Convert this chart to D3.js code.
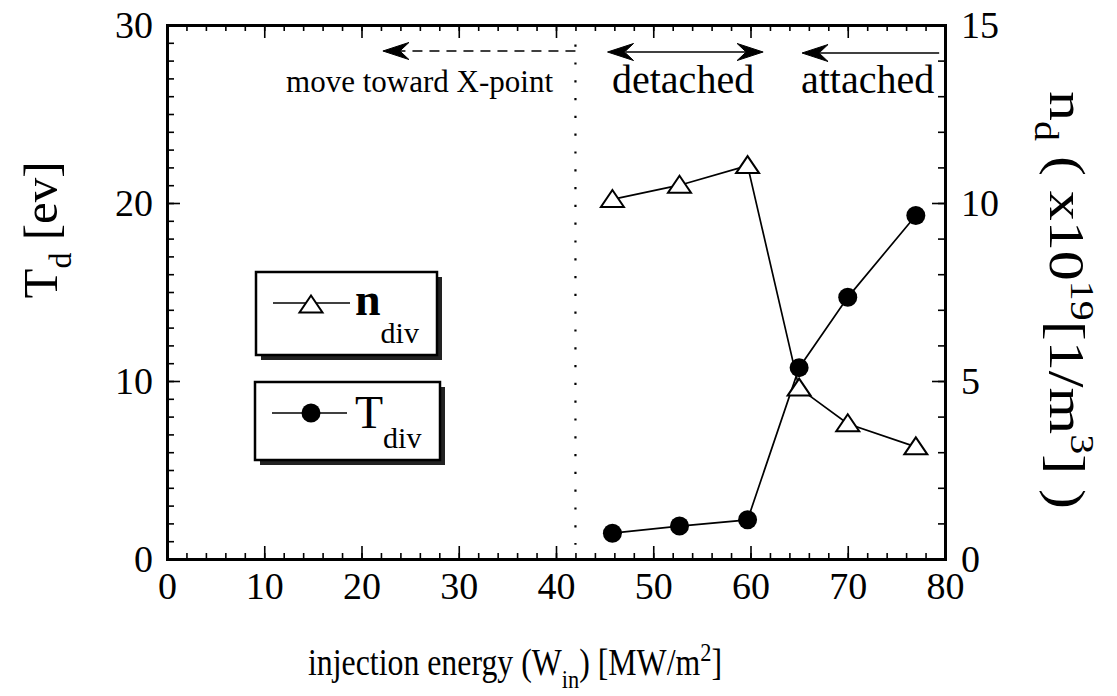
<!DOCTYPE html>
<html>
<head>
<meta charset="utf-8">
<script src="https://cdn.jsdelivr.net/npm/d3@7"></script>
<style>
  html, body { margin: 0; padding: 0; background: #fff; }
  svg { display: block; }
  text { font-family: "Liberation Serif", "Times New Roman", serif; fill: #000; }
</style>
</head>
<body>
<svg id="chart" width="1117" height="696"></svg>
<script>
// Injection energy (MW/m^2) for each simulation case
const injectionEnergy = [45.8, 52.7, 59.7, 65, 70, 77];
// Divertor density n_div (x10^19 1/m^3), right axis
const nDiv = [10.1, 10.5, 11.05, 4.8, 3.8, 3.15];
// Divertor temperature T_div (eV), left axis
const tDiv = [1.45, 1.85, 2.2, 10.75, 14.7, 19.3];

const xTicks = [0, 10, 20, 30, 40, 50, 60, 70, 80];
const leftTicks = [0, 10, 20, 30];
const rightTicks = [0, 5, 10, 15];

// Regime boundary (dotted line) and arrow extents, in injection-energy units
const xPointBoundary = 42;
const moveArrow = [42, 22.2];
const detachedArrow = [45.3, 61.3];
const attachedArrow = [79.4, 65.3];

const svg = d3.select("#chart");
const L = 167, R = 945, T = 25, B = 559;

const x = d3.scaleLinear().domain([0, 80]).range([L, R]);
const yT = d3.scaleLinear().domain([0, 30]).range([B, T]);
const yN = d3.scaleLinear().domain([0, 15]).range([B, T]);

function styleAxis(g, fontSize) {
  g.select(".domain").attr("stroke", "#000").attr("stroke-width", 3);
  g.selectAll(".tick line").attr("stroke", "#000").attr("stroke-width", 1.6);
  g.selectAll(".tick text").attr("font-size", fontSize)
    .attr("font-family", "Liberation Serif").attr("fill", "#000");
}

// minor ticks
const minorX = d3.range(0, 81, 2);
const minorT = d3.range(0, 31, 1);
const minorN = d3.range(0, 16, 1);

svg.append("g").attr("transform", `translate(0,${B})`)
  .call(d3.axisBottom(x).tickValues(minorX).tickSize(-6).tickFormat(""))
  .call(g => styleAxis(g, 0));
svg.append("g").attr("transform", `translate(0,${T})`)
  .call(d3.axisTop(x).tickValues(minorX).tickSize(-6).tickFormat(""))
  .call(g => styleAxis(g, 0));
svg.append("g").attr("transform", `translate(${L},0)`)
  .call(d3.axisLeft(yT).tickValues(minorT).tickSize(-7).tickFormat(""))
  .call(g => styleAxis(g, 0));
svg.append("g").attr("transform", `translate(${R},0)`)
  .call(d3.axisRight(yN).tickValues(minorN).tickSize(-7).tickFormat(""))
  .call(g => styleAxis(g, 0));

// major ticks with labels
svg.append("g").attr("transform", `translate(0,${B})`)
  .call(d3.axisBottom(x).tickValues(xTicks).tickSizeInner(-13).tickSizeOuter(0).tickPadding(13).tickFormat(d3.format("d")))
  .call(g => styleAxis(g, 38));
svg.append("g").attr("transform", `translate(0,${T})`)
  .call(d3.axisTop(x).tickValues(xTicks).tickSizeInner(-13).tickSizeOuter(0).tickFormat(""))
  .call(g => styleAxis(g, 0));
svg.append("g").attr("transform", `translate(${L},0)`)
  .call(d3.axisLeft(yT).tickValues(leftTicks).tickSizeInner(-13).tickSizeOuter(0).tickPadding(14).tickFormat(d3.format("d")))
  .call(g => styleAxis(g, 38));
svg.append("g").attr("transform", `translate(${R},0)`)
  .call(d3.axisRight(yN).tickValues(rightTicks).tickSizeInner(-13).tickSizeOuter(0).tickPadding(16).tickFormat(d3.format("d")))
  .call(g => styleAxis(g, 38));

// dotted boundary line
svg.append("line")
  .attr("x1", x(xPointBoundary)).attr("x2", x(xPointBoundary))
  .attr("y1", yT(28.9)).attr("y2", yT(0.8))
  .attr("stroke", "#000").attr("stroke-width", 2.2)
  .attr("stroke-dasharray", "2.2,15.6");

// barbed arrowhead pointing in direction dir (+1 right, -1 left)
function arrowHead(tipX, tipY, dir) {
  const len = 26, half = 8.5, notch = 17;
  const p = [
    [tipX, tipY],
    [tipX - dir * len, tipY - half],
    [tipX - dir * notch, tipY],
    [tipX - dir * len, tipY + half]
  ];
  svg.append("path").attr("d", "M" + p.map(d => d.join(",")).join("L") + "Z")
    .attr("fill", "#000").attr("stroke", "#000").attr("stroke-width", 1);
}

const arrowY = 51;
// move toward X-point (dashed)
svg.append("line")
  .attr("x1", x(moveArrow[0])).attr("x2", x(moveArrow[1]) + 18)
  .attr("y1", arrowY).attr("y2", arrowY)
  .attr("stroke", "#000").attr("stroke-width", 1.5).attr("stroke-dasharray", "10,7");
arrowHead(x(moveArrow[1]), arrowY, -1);

// detached (double-headed)
svg.append("line")
  .attr("x1", x(detachedArrow[0]) + 18).attr("x2", x(detachedArrow[1]) - 18)
  .attr("y1", arrowY + 1).attr("y2", arrowY + 1)
  .attr("stroke", "#000").attr("stroke-width", 1.5);
arrowHead(x(detachedArrow[0]), arrowY + 1, -1);
arrowHead(x(detachedArrow[1]), arrowY + 1, 1);

// attached
svg.append("line")
  .attr("x1", x(attachedArrow[0])).attr("x2", x(attachedArrow[1]) + 18)
  .attr("y1", arrowY + 2).attr("y2", arrowY + 2)
  .attr("stroke", "#000").attr("stroke-width", 1.5);
arrowHead(x(attachedArrow[1]), arrowY + 2, -1);

svg.append("text").attr("x", 553).attr("y", 92).attr("text-anchor", "end")
  .attr("font-size", 31).text("move toward X-point");
svg.append("text").attr("x", 612).attr("y", 93)
  .attr("font-size", 40).text("detached");
svg.append("text").attr("x", 801).attr("y", 93)
  .attr("font-size", 40).text("attached");

// data lines
const ptsN = injectionEnergy.map((w, i) => [x(w), yN(nDiv[i])]);
const ptsT = injectionEnergy.map((w, i) => [x(w), yT(tDiv[i])]);
const line = d3.line();
svg.append("path").attr("d", line(ptsN)).attr("fill", "none")
  .attr("stroke", "#000").attr("stroke-width", 1.7);
svg.append("path").attr("d", line(ptsT)).attr("fill", "none")
  .attr("stroke", "#000").attr("stroke-width", 1.7);

const triPath = "M0,-9.5L11.5,7.5L-11.5,7.5Z";
svg.selectAll(".tri").data(ptsN).join("path").attr("class", "tri")
  .attr("transform", d => `translate(${d[0]},${d[1]})`)
  .attr("d", triPath).attr("fill", "#fff").attr("stroke", "#000").attr("stroke-width", 2);
svg.selectAll(".dot").data(ptsT).join("circle").attr("class", "dot")
  .attr("cx", d => d[0]).attr("cy", d => d[1]).attr("r", 9.5).attr("fill", "#000");

// legend boxes with drop shadow
function legendBox(bx, by, bw, bh) {
  svg.append("rect").attr("x", bx + 5).attr("y", by + 5).attr("width", bw).attr("height", bh)
    .attr("fill", "#222");
  svg.append("rect").attr("x", bx).attr("y", by).attr("width", bw).attr("height", bh)
    .attr("fill", "#fff").attr("stroke", "#000").attr("stroke-width", 2.5);
}
legendBox(256, 272, 181, 83);
legendBox(255, 382, 185, 78);

svg.append("line").attr("x1", 273).attr("x2", 350).attr("y1", 303).attr("y2", 303)
  .attr("stroke", "#000").attr("stroke-width", 1.6);
svg.append("path").attr("transform", "translate(311,305)").attr("d", triPath)
  .attr("fill", "#fff").attr("stroke", "#000").attr("stroke-width", 2);
const ln = svg.append("text").attr("x", 355).attr("y", 315).attr("font-size", 46);
ln.append("tspan").attr("font-weight", "bold").text("n");
ln.append("tspan").attr("font-size", 30).attr("dy", 28).text("div");

svg.append("line").attr("x1", 272).attr("x2", 347).attr("y1", 413).attr("y2", 413)
  .attr("stroke", "#000").attr("stroke-width", 1.6);
svg.append("circle").attr("cx", 311).attr("cy", 413).attr("r", 9.5).attr("fill", "#000");
const lt = svg.append("text").attr("x", 355).attr("y", 428).attr("font-size", 46);
lt.append("tspan").text("T");
lt.append("tspan").attr("font-size", 30).attr("dy", 20).text("div");

// axis titles
const yl = svg.append("text").attr("transform", "translate(57,230) rotate(-90)")
  .attr("text-anchor", "middle").attr("font-size", 49);
yl.append("tspan").text("T");
yl.append("tspan").attr("font-size", 32).attr("dy", 14).text("d");
yl.append("tspan").attr("dy", -14).text(" [ev]");

const yr = svg.append("text").attr("transform", "translate(1050,300) scale(0.86,1) rotate(90)")
  .attr("text-anchor", "middle").attr("font-size", 60);
yr.append("tspan").text("n");
yr.append("tspan").attr("font-size", 40).attr("dy", 17).text("d");
yr.append("tspan").attr("dy", -17).text(" ( x10");
yr.append("tspan").attr("font-size", 40).attr("dy", -24).text("19");
yr.append("tspan").attr("dy", 24).text("[1/m");
yr.append("tspan").attr("font-size", 40).attr("dy", -24).text("3");
yr.append("tspan").attr("dy", 24).text("] )");

const xl = svg.append("text").attr("transform", "translate(515,675) scale(0.86,1)")
  .attr("text-anchor", "middle").attr("font-size", 37);
xl.append("tspan").text("injection energy (W");
xl.append("tspan").attr("font-size", 26).attr("dy", 13).text("in");
xl.append("tspan").attr("dy", -13).text(") [MW/m");
xl.append("tspan").attr("font-size", 26).attr("dy", -14).text("2");
xl.append("tspan").attr("dy", 14).text("]");
</script>
</body>
</html>
